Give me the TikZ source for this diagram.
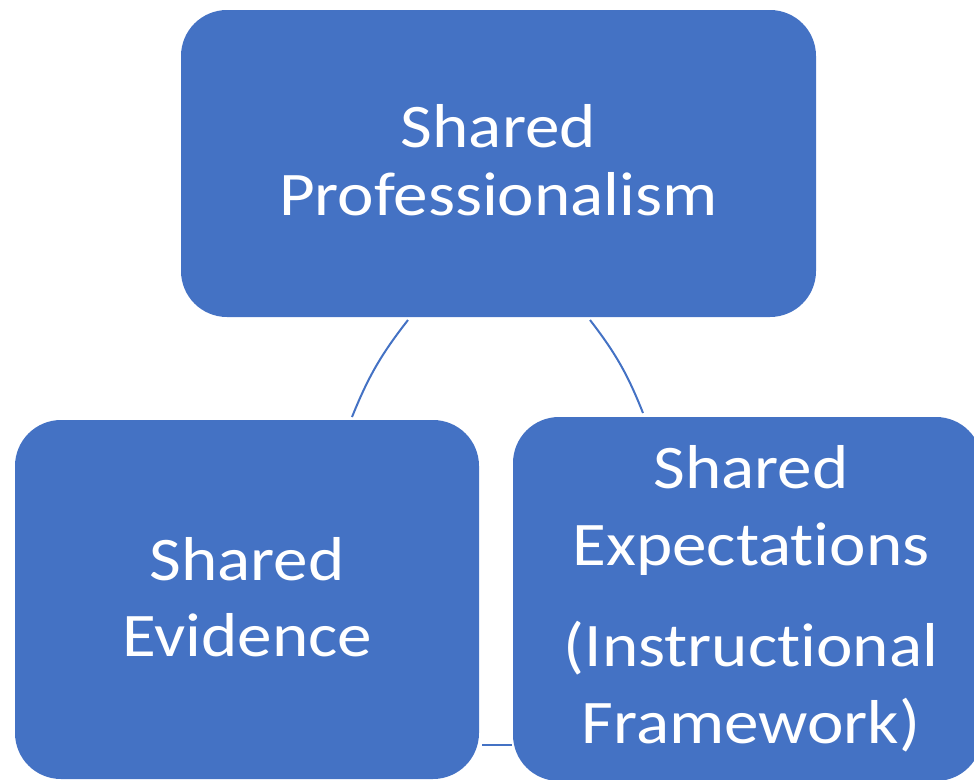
\documentclass[tikz,border=0pt]{standalone}
\usepackage{fontspec}
\setmainfont{Carlito}[Ligatures={NoCommon,NoRare},FakeStretch=1.115]
\definecolor{cycleblue}{HTML}{4472C4}
\begin{document}
\begin{tikzpicture}[x=1pt,y=-1pt,
  box/.style={fill=cycleblue, draw=none, rounded corners=46pt, inner sep=0pt},
  lbl/.style={text=white, align=center, inner sep=0pt},
  tight/.style={font=\fontsize{62}{68}\selectfont},
  loose/.style={font=\fontsize{62}{76.5}\selectfont},
  link/.style={draw=cycleblue, line width=2pt}]
  \useasboundingbox (0,0) rectangle (974,779);

  % the three boxes of the cycle
  \node[box, minimum width=635pt, minimum height=307pt] (top) at (498.5,163.5) {};
  \node[box, minimum width=464pt, minimum height=359pt] (left) at (247,599.5) {};
  \node[box, minimum width=469pt, minimum height=364pt] (right) at (747.5,599) {};

  % labels
  \node[lbl, tight] (toptext) at (498.5,160) {Shared\\Professionalism};
  \node[lbl, loose] (lefttext) at (247,597) {Shared\\Evidence};
  \node[lbl, loose] (righttext) at (751,599) {Shared\\Expectations\\[25pt](Instructional\\Framework)};

  % arc ends of the connectors
  \coordinate (c1a) at (408,320);
  \coordinate (c1b) at (352,417);
  \coordinate (c2a) at (590,320);
  \coordinate (c2b) at (643,413);
  \coordinate (c3a) at (482,744.5);
  \coordinate (c3b) at (511.5,744.5);

  \draw[link] (c1a) to[bend right=8] (c1b);
  \draw[link] (c2a) to[bend left=8] (c2b);
  \draw[link] (c3a) -- (c3b);
\end{tikzpicture}
\end{document}
